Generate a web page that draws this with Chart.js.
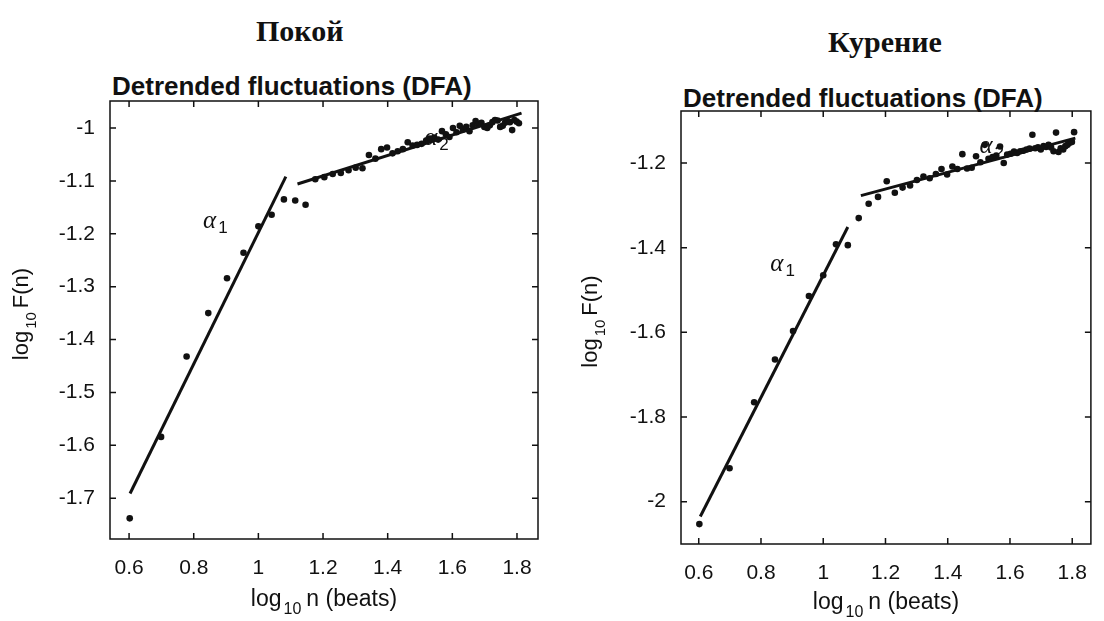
<!DOCTYPE html>
<html>
<head>
<meta charset="utf-8">
<script src="https://cdn.jsdelivr.net/npm/chart.js@4.4.1/dist/chart.umd.min.js"></script>
<style>
  body { margin: 0; background: #fff; width: 1104px; height: 621px; position: relative; overflow: hidden; }
  canvas { position: absolute; top: 0; }
  .head { position: absolute; font-family: "Liberation Serif", "Times New Roman", serif; font-weight: bold; font-size: 30px; line-height: 1; color: #111; white-space: nowrap; }
  .sub { position: absolute; font-family: "Liberation Sans", Arial, sans-serif; font-weight: bold; font-size: 26px; line-height: 1; color: #111; white-space: nowrap; }
</style>
</head>
<body>
<div class="head" style="left:256px;top:16px">Покой</div>
<div class="head" style="left:828px;top:27px">Курение</div>
<div class="sub" style="left:112px;top:73px">Detrended fluctuations (DFA)</div>
<div class="sub" style="left:683px;top:85px">Detrended fluctuations (DFA)</div>
<canvas id="rest" width="560" height="621" style="left:0"></canvas>
<canvas id="smoke" width="544" height="621" style="left:560px"></canvas>
<script>
// log10 n for window sizes n = 4 ... 64 beats
const logN = [
  0.602, 0.699, 0.778, 0.845, 0.903, 0.954, 1.000, 1.041, 1.079, 1.114, 1.146,
  1.176, 1.204, 1.230, 1.255, 1.279, 1.301, 1.322, 1.342, 1.362, 1.380,
  1.398, 1.415, 1.431, 1.447, 1.462, 1.477, 1.491, 1.505, 1.519, 1.531,
  1.544, 1.556, 1.568, 1.580, 1.591, 1.602, 1.613, 1.623, 1.633, 1.643,
  1.653, 1.663, 1.672, 1.681, 1.690, 1.699, 1.708, 1.716, 1.724, 1.732,
  1.740, 1.748, 1.756, 1.763, 1.771, 1.778, 1.785, 1.792, 1.799, 1.806
];

// log10 F(n), rest ("Покой")
const restF = [
  -1.738, -1.584, -1.432, -1.350, -1.284, -1.236, -1.186, -1.164, -1.135, -1.137, -1.145,
  -1.097, -1.093, -1.087, -1.085, -1.080, -1.075, -1.076, -1.051, -1.058, -1.040,
  -1.037, -1.048, -1.044, -1.040, -1.027, -1.033, -1.032, -1.030, -1.024, -1.020,
  -1.018, -1.022, -1.006, -1.012, -1.017, -1.000, -1.008, -0.996, -1.003, -0.998,
  -1.006, -0.995, -0.987, -0.992, -0.990, -0.998, -1.000, -0.995, -0.989, -0.985,
  -0.986, -0.998, -0.996, -0.990, -0.987, -0.989, -1.004, -0.985, -0.988, -0.991
];

// log10 F(n), smoking ("Курение")
const smokeF = [
  -2.053, -1.921, -1.765, -1.664, -1.597, -1.514, -1.465, -1.392, -1.394, -1.330, -1.296,
  -1.280, -1.243, -1.270, -1.258, -1.253, -1.240, -1.232, -1.236, -1.226, -1.214,
  -1.227, -1.208, -1.214, -1.179, -1.213, -1.211, -1.184, -1.198, -1.157, -1.190,
  -1.186, -1.182, -1.161, -1.200, -1.180, -1.178, -1.173, -1.176, -1.172, -1.171,
  -1.168, -1.166, -1.133, -1.165, -1.163, -1.168, -1.160, -1.162, -1.157, -1.163,
  -1.172, -1.128, -1.174, -1.165, -1.168, -1.160, -1.157, -1.152, -1.150, -1.127
];

// fitted lines, [x, y] end points
const restAlpha1 = [[0.603, -1.691], [1.085, -1.092]];
const restAlpha2 = [[1.121, -1.106], [1.814, -0.972]];
const smokeAlpha1 = [[0.605, -2.035], [1.079, -1.351]];
const smokeAlpha2 = [[1.121, -1.277], [1.810, -1.141]];

// label anchors (data coords) for α1 / α2
const restLabels = [['1', 0.829, -1.189], ['2', 1.513, -1.032]];
const smokeLabels = [['1', 0.830, -1.456], ['2', 1.502, -1.176]];

const xTicks = [0.6, 0.8, 1, 1.2, 1.4, 1.6, 1.8];
const restYTicks = [-1.7, -1.6, -1.5, -1.4, -1.3, -1.2, -1.1, -1];
const smokeYTicks = [-2, -1.8, -1.6, -1.4, -1.2];

const INK = '#111';
const SANS = '"Liberation Sans", Arial, sans-serif';

function drawParts(ctx, parts, x, y) {
  // parts: [text, size, dy, gapAfter]
  let w = 0;
  parts.forEach(p => { ctx.font = p[1] + 'px ' + SANS; w += ctx.measureText(p[0]).width + (p[3] || 0); });
  let cx = x - w / 2;
  parts.forEach(p => {
    ctx.font = p[1] + 'px ' + SANS;
    ctx.fillText(p[0], cx, y + p[2]);
    cx += ctx.measureText(p[0]).width + (p[3] || 0);
  });
}

const framePlugin = {
  id: 'frame',
  afterDraw(chart, args, opts) {
    const { ctx, chartArea: a, scales: { x, y } } = chart;
    ctx.save();
    ctx.strokeStyle = INK;
    ctx.fillStyle = INK;
    ctx.lineWidth = 1.5;
    ctx.strokeRect(a.left, a.top, a.right - a.left, a.bottom - a.top);
    ctx.beginPath();
    x.ticks.forEach(t => {
      const px = x.getPixelForValue(t.value);
      ctx.moveTo(px, a.bottom); ctx.lineTo(px, a.bottom - 6);
      ctx.moveTo(px, a.top); ctx.lineTo(px, a.top + 6);
    });
    y.ticks.forEach(t => {
      const py = y.getPixelForValue(t.value);
      ctx.moveTo(a.left, py); ctx.lineTo(a.left + 6, py);
      ctx.moveTo(a.right, py); ctx.lineTo(a.right - 6, py);
    });
    ctx.stroke();

    // axis titles with subscripts
    ctx.textAlign = 'left';
    ctx.textBaseline = 'alphabetic';
    drawParts(ctx, [['log', 23, 0, 2], ['10', 16, 8, 5], ['n (beats)', 23, 0]],
      (a.left + a.right) / 2, a.bottom + opts.xTitleGap);
    ctx.save();
    ctx.translate(a.left - opts.yTitleGap, (a.top + a.bottom) / 2 - 6);
    ctx.rotate(-Math.PI / 2);
    drawParts(ctx, [['log', 22, 0, 2], ['10', 15, 8, 4], ['F(n)', 22, 0]], 0, 0);
    ctx.restore();

    // α labels
    opts.labels.forEach(l => {
      const px = x.getPixelForValue(l[1]);
      const py = y.getPixelForValue(l[2]);
      ctx.font = 'italic 25px "Liberation Serif", "Times New Roman", serif';
      ctx.fillText('α', px, py);
      const w = ctx.measureText('α').width;
      ctx.font = '17px ' + SANS;
      ctx.fillText(l[0], px + w + 2, py + 5);
    });
    ctx.restore();
  }
};

function makeChart(id, cfg) {
  const canvas = document.getElementById(id);
  const W = canvas.width, H = canvas.height;
  const lineSet = pts => ({
    type: 'line',
    data: pts.map(p => ({ x: p[0], y: p[1] })),
    borderColor: INK,
    borderWidth: 3,
    pointRadius: 0,
    showLine: true
  });
  return new Chart(canvas, {
    type: 'scatter',
    data: {
      datasets: [
        lineSet(cfg.fit1),
        lineSet(cfg.fit2),
        {
          data: logN.map((v, i) => ({ x: v, y: cfg.values[i] })),
          backgroundColor: INK,
          borderColor: INK,
          borderWidth: 0,
          pointRadius: 3.3
        }
      ]
    },
    options: {
      responsive: false,
      animation: false,
      devicePixelRatio: 1,
      layout: { padding: { left: 0, top: cfg.area.top, right: W - cfg.area.right, bottom: 0 } },
      plugins: {
        legend: { display: false },
        tooltip: { enabled: false },
        frame: { labels: cfg.labels, xTitleGap: cfg.xTitleGap, yTitleGap: cfg.yTitleGap }
      },
      scales: {
        x: {
          type: 'linear',
          min: cfg.xMin, max: cfg.xMax,
          grid: { display: false, drawTicks: false },
          border: { display: false },
          ticks: { padding: 17, color: INK, font: { family: SANS, size: 21 }, callback: v => String(v) },
          afterBuildTicks: s => { s.ticks = xTicks.map(v => ({ value: v })); },
          afterFit: s => { s.height = H - cfg.area.bottom; }
        },
        y: {
          type: 'linear',
          min: cfg.yMin, max: cfg.yMax,
          grid: { display: false, drawTicks: false },
          border: { display: false },
          ticks: { padding: 15, color: INK, font: { family: SANS, size: 21 }, callback: v => String(v) },
          afterBuildTicks: s => { s.ticks = cfg.yTicks.map(v => ({ value: v })); },
          afterFit: s => { s.width = cfg.area.left; }
        }
      }
    },
    plugins: [framePlugin]
  });
}

makeChart('rest', {
  values: restF, fit1: restAlpha1, fit2: restAlpha2, labels: restLabels,
  yTicks: restYTicks, xMin: 0.541, xMax: 1.865, yMin: -1.777, yMax: -0.949,
  area: { left: 110, top: 101, right: 538, bottom: 539 },
  xTitleGap: 67, yTitleGap: 82
});

makeChart('smoke', {
  values: smokeF, fit1: smokeAlpha1, fit2: smokeAlpha2, labels: smokeLabels,
  yTicks: smokeYTicks, xMin: 0.543, xMax: 1.86, yMin: -2.1, yMax: -1.077,
  area: { left: 121, top: 111, right: 542, bottom: 544 },
  xTitleGap: 65, yTitleGap: 84
});
</script>
</body>
</html>
